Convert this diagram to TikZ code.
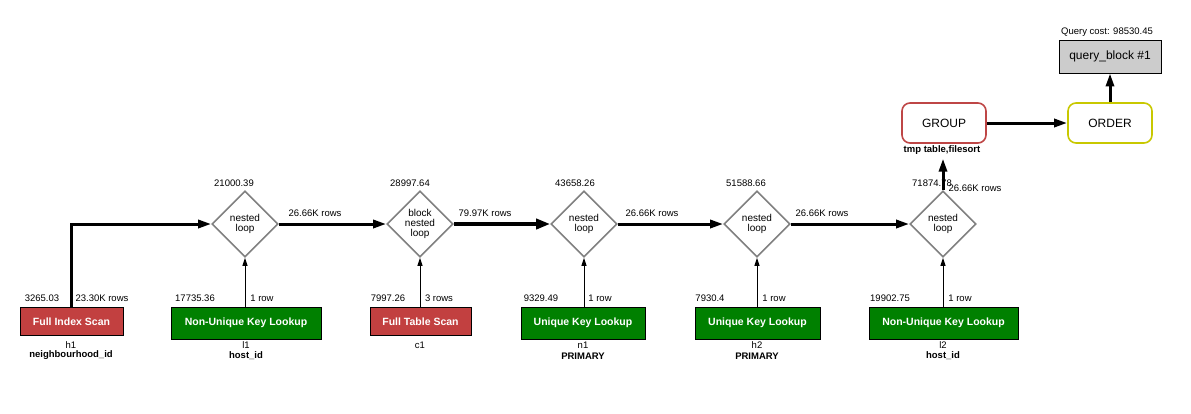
\documentclass[tikz,border=0pt]{standalone}
\usepackage{fontspec}
\setmainfont{Liberation Sans}
\usetikzlibrary{shapes.geometric,arrows.meta}
\definecolor{scanred}{RGB}{194,64,64}
\definecolor{lookgreen}{RGB}{0,128,0}
\definecolor{dgray}{RGB}{128,128,128}
\definecolor{qgray}{RGB}{204,204,204}
\definecolor{grpred}{RGB}{190,70,70}
\definecolor{ordyel}{RGB}{200,200,0}
\tikzset{
  lbl/.style={inner sep=0pt,font=\fontsize{9.5}{10}\selectfont},
  blbl/.style={inner sep=0pt,font=\fontsize{9.5}{10}\selectfont\bfseries},
  opbox/.style={draw=black,line width=0.8pt,text=white,font=\fontsize{10.5}{12}\selectfont\bfseries,inner sep=0pt},
  redbox/.style={opbox,fill=scanred,minimum height=28},
  greenbox/.style={opbox,fill=lookgreen,minimum height=32},
  loopnode/.style={diamond,aspect=1,draw=dgray,line width=1.6pt,minimum size=66,inner sep=0pt,align=center,font=\fontsize{10}{10}\selectfont},
  roundbox/.style={draw,rounded corners=8pt,line width=1.6pt,minimum width=84,minimum height=40,font=\fontsize{12}{14}\selectfont,inner sep=0pt},
  flow/.style={line width=3pt,-{Triangle[length=13pt,width=8pt]}},
  bigflow/.style={line width=4.5pt,-{Triangle[length=14pt,width=10pt]}},
  feed/.style={line width=1pt,-{Triangle[length=8pt,width=5pt]}}
}
\begin{document}
\begin{tikzpicture}[x=1pt,y=-1pt]
\useasboundingbox (0,0) rectangle (1191,413);
% scans / lookups
\node[redbox,minimum width=103] (h1) at (71.5,321.5) {Full Index Scan};
\node[greenbox,minimum width=150] (l1) at (246,323) {Non-Unique Key Lookup};
\node[redbox,minimum width=101] (c1) at (420.5,321.5) {Full Table Scan};
\node[greenbox,minimum width=124] (n1) at (583,323) {Unique Key Lookup};
\node[greenbox,minimum width=125] (h2) at (757.5,323) {Unique Key Lookup};
\node[greenbox,minimum width=149] (l2) at (943.5,323) {Non-Unique Key Lookup};
% loops
\node[loopnode] (d1) at (245,224) {nested\\loop};
\node[loopnode] (d2) at (420,224) {block\\nested\\loop};
\node[loopnode] (d3) at (584,224) {nested\\loop};
\node[loopnode] (d4) at (757,224) {nested\\loop};
\node[loopnode] (d5) at (943,224) {nested\\loop};
% top
\node[roundbox,draw=grpred] (grp) at (944,123) {GROUP};
\node[roundbox,draw=ordyel] (ord) at (1110,123) {ORDER};
\node[draw=black,line width=0.8pt,fill=qgray,minimum width=102,minimum height=33,inner sep=0pt,font=\fontsize{12}{14}\selectfont] (qb) at (1110,56.5) {query\_block \#1};
\node[lbl] (qcost) at (1107,32) {Query cost: 98530.45};
\node[blbl] (grpx) at (942,150) {tmp table,filesort};
% labels under boxes
\node[lbl] (h1a) at (71,345) {h1};
\node[blbl] (h1b) at (71,355.5) {neighbourhood\_id};
\node[lbl] (l1a) at (246,345) {l1};
\node[blbl] (l1b) at (246,356) {host\_id};
\node[lbl] (c1a) at (420,345) {c1};
\node[lbl] (n1a) at (583,345) {n1};
\node[blbl] (n1b) at (583,356) {PRIMARY};
\node[lbl] (h2a) at (757,345) {h2};
\node[blbl] (h2b) at (757,356) {PRIMARY};
\node[lbl] (l2a) at (943,345) {l2};
\node[blbl] (l2b) at (943,356) {host\_id};
% cost / row labels above boxes
\node[lbl] (h1c) at (42,298) {3265.03};
\node[lbl] (h1r) at (102,298) {23.30K rows};
\node[lbl] (l1c) at (195,298) {17735.36};
\node[lbl] (l1r) at (262,298) {1 row};
\node[lbl] (c1c) at (388,298) {7997.26};
\node[lbl] (c1r) at (439,298) {3 rows};
\node[lbl] (n1c) at (541,298) {9329.49};
\node[lbl] (n1r) at (600,298) {1 row};
\node[lbl] (h2c) at (710,298) {7930.4};
\node[lbl] (h2r) at (774,298) {1 row};
\node[lbl] (l2c) at (890,298) {19902.75};
\node[lbl] (l2r) at (960,298) {1 row};
% loop labels
\node[lbl] (d1c) at (234,183) {21000.39};
\node[lbl] (d1r) at (315,213.5) {26.66K rows};
\node[lbl] (d2c) at (410,183) {28997.64};
\node[lbl] (d2r) at (485,213.5) {79.97K rows};
\node[lbl] (d3c) at (575,183) {43658.26};
\node[lbl] (d3r) at (652,213.5) {26.66K rows};
\node[lbl] (d4c) at (746,183) {51588.66};
\node[lbl] (d4r) at (822,213.5) {26.66K rows};
\node[lbl] (d5c) at (932,183) {71874.78};
\node[lbl] (d5r) at (975,188) {26.66K rows};
% connectors
\draw[flow] (h1.north) |- (d1.west);
\draw[feed] (d1.south |- l1.north) -- (d1.south);
\draw[flow] (d1.east) -- (d2.west);
\draw[feed] (d2.south |- c1.north) -- (d2.south);
\draw[bigflow] (d2.east) -- (d3.west);
\draw[feed] (d3.south |- n1.north) -- (d3.south);
\draw[flow] (d3.east) -- (d4.west);
\draw[feed] (d4.south |- h2.north) -- (d4.south);
\draw[flow] (d4.east) -- (d5.west);
\draw[feed] (d5.south |- l2.north) -- (d5.south);
\draw[flow,shorten >=4pt] (d5.north) -- (d5.north |- grpx.south);
\draw[flow] (grp.east) -- (ord.west);
\draw[flow] (ord.north) -- (qb.south);
\end{tikzpicture}
\end{document}
